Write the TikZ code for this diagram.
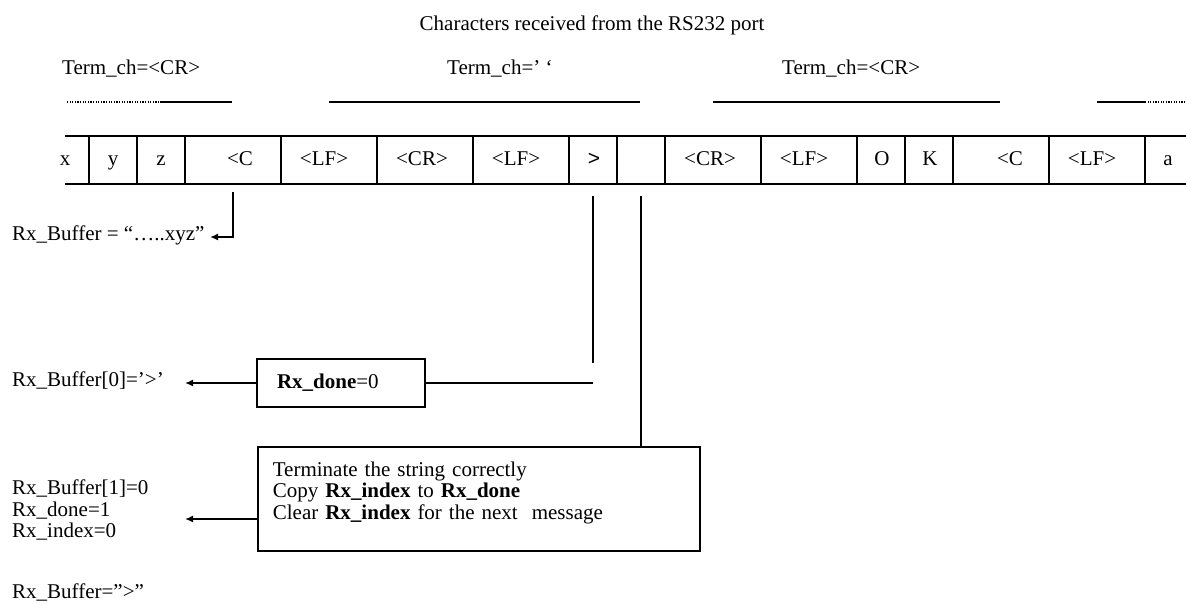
\documentclass[tikz,border=0pt]{standalone}
\usepackage{fontspec}
\setmainfont{Liberation Serif}
\newfontfamily\arialf{Liberation Sans}
\usetikzlibrary{arrows.meta}
\begin{document}
\begin{tikzpicture}[x=1pt,y=-1pt,
  every node/.style={font=\fontsize{21}{21.5}\selectfont, inner sep=0pt},
  ln/.style={line width=1.7pt},
  dotln/.style={line width=1.3pt, dash pattern=on 1.2pt off 1.4pt},
  arr/.style={line width=1.7pt, -{Latex[length=8pt,width=7pt]}},
  celltxt/.style={anchor=base},
  lbl/.style={anchor=base west},
  infobox/.style={draw, line width=1.7pt, align=left}
]
\useasboundingbox (0,0) rectangle (1186,603);

% title and terminator labels
\node[anchor=base] (title) at (592,30) {Characters received from the RS232 port};
\node[lbl] (t1) at (62,74) {Term\_ch=<CR>};
\node[lbl] (t2) at (447,74) {Term\_ch=’ ‘};
\node[lbl] (t3) at (782,74) {Term\_ch=<CR>};

% message spans
\draw[dotln] (67,102) -- (160,102);
\draw[ln] (160,102) -- (232,102);
\draw[ln] (329,102) -- (640,102);
\draw[ln] (713,102) -- (1000,102);
\draw[ln] (1097,102) -- (1145,102);
\draw[dotln] (1145,102) -- (1186,102);

% character stream
\draw[ln] (65,136) -- (1186,136);
\draw[ln] (65,184) -- (1186,184);
\foreach \x in {89,137,185,281,377,473,569,617,665,761,857,905,953,1049,1145}
  \draw[ln] (\x,136) -- (\x,184);

\node[celltxt] (c1) at (65,165) {x};
\node[celltxt] (c2) at (113,165) {y};
\node[celltxt] (c3) at (161,165) {z};
\node[celltxt] (c4) at (240,165) {<C};
\node[celltxt] (c5) at (324,165) {<LF>};
\node[celltxt] (c6) at (422,165) {<CR>};
\node[celltxt] (c7) at (516,165) {<LF>};
\node[celltxt] (c8) at (594,165) {\arialf >};
\node[celltxt] (c10) at (710,165) {<CR>};
\node[celltxt] (c11) at (804,165) {<LF>};
\node[celltxt] (c12) at (882,165) {O};
\node[celltxt] (c13) at (930,165) {K};
\node[celltxt] (c14) at (1010,165) {<C};
\node[celltxt] (c15) at (1092,165) {<LF>};
\node[celltxt] (c16) at (1168,165) {a};

% left side results
\node[lbl] (buf) at (12,240) {Rx\_Buffer = “…..xyz”};
\node[lbl] (rb0) at (12,386) {Rx\_Buffer[0]=’>’};
\node[anchor=north west, align=left] (rb1) at (12,480) {Rx\_Buffer[1]=0\\Rx\_done=1\\Rx\_index=0};
\node[lbl] (rbq) at (12,598) {Rx\_Buffer=”>”};

% action boxes
\node[infobox, text width=128pt, inner xsep=20pt, minimum height=48pt] (done0) at (341,383) {\textbf{Rx\_done}=0};
\node[infobox, anchor=north west, text width=412pt, inner xsep=15pt, inner ysep=15pt] (term) at (257,446)
  {Terminate the string correctly\\
   Copy \textbf{Rx\_index} to \textbf{Rx\_done}\\
   Clear \textbf{Rx\_index} for the next~ message\par\kern12pt};

% connectors
\coordinate (d1) at (233,192);
\coordinate (buftip) at (210,237);
\draw[arr] (d1) |- (buftip);

\coordinate (v1t) at (593,196);
\coordinate (v1b) at (593,363);
\draw[ln] (v1t) -- (v1b);
\coordinate (h1) at (593,383);
\draw[ln] (done0.east) -- (h1);
\coordinate (a0) at (185,383);
\draw[arr] (done0.west) -- (a0);

\coordinate (v2t) at (641,196);
\draw[ln] (v2t) -- (v2t |- term.north);
\coordinate (ab) at (185,519);
\draw[arr] (term.west |- ab) -- (ab);
\end{tikzpicture}
\end{document}
